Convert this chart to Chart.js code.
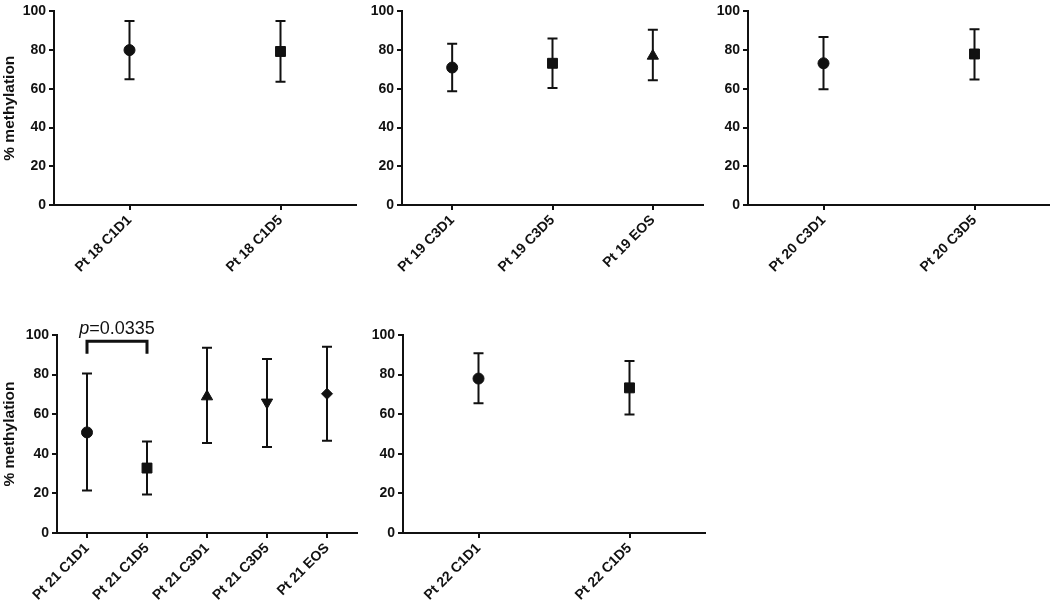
<!DOCTYPE html>
<html>
<head>
<meta charset="utf-8">
<script src="https://cdn.jsdelivr.net/npm/chart.js@4/dist/chart.umd.min.js"></script>
<style>
body{margin:0;background:#fff;width:1050px;height:605px;position:relative;overflow:hidden;}
canvas{position:absolute;}
</style>
</head>
<body>
<canvas id="c18" style="left:0;top:0"></canvas>
<canvas id="c19" style="left:350px;top:0"></canvas>
<canvas id="c20" style="left:700px;top:0"></canvas>
<canvas id="c21" style="left:0;top:300px"></canvas>
<canvas id="c22" style="left:350px;top:300px"></canvas>
<script>
// values (% methylation, mean with lower/upper error)
const yTicks=[0,20,40,60,80,100];

const labels18=['Pt 18 C1D1','Pt 18 C1D5'];
const mean18=[80,79.3];
const low18=[65,63.7];
const high18=[95,95];

const labels19=['Pt 19 C3D1','Pt 19 C3D5','Pt 19 EOS'];
const mean19=[71,73.2,77];
const low19=[58.8,60.4,64.5];
const high19=[83.3,86,90.5];

const labels20=['Pt 20 C3D1','Pt 20 C3D5'];
const mean20=[73.2,78];
const low20=[59.8,64.8];
const high20=[86.8,90.8];

const labels21=['Pt 21 C1D1','Pt 21 C1D5','Pt 21 C3D1','Pt 21 C3D5','Pt 21 EOS'];
const mean21=[50.8,32.8,68.9,66,70.3];
const low21=[21.5,19.5,45.4,43.4,46.6];
const high21=[80.5,46.2,93.6,87.9,94.1];

const labels22=['Pt 22 C1D1','Pt 22 C1D5'];
const mean22=[78,73.3];
const low22=[65.5,59.8];
const high22=[90.8,86.9];

const pText21='0.0335';
const pPair21=[0,1];
const pBracket21=[90.5,96.8];

// marker shapes by position in the group
const shapes=['circle','rect','triangle','triangle','rectRot'];
const rotations=[0,0,0,180,0];
const radii=[5.5,7,6.5,6.5,5.5];

const FONT='"Liberation Sans", Arial, sans-serif';
const INK='#111';

const errorBars={
    id:'errorBars',
    beforeDatasetsDraw(chart,args,opts){
        const x=chart.scales.x, y=chart.scales.y;
        const ctx=chart.ctx;
        ctx.save();
        ctx.strokeStyle=INK;
        ctx.lineWidth=2;
        opts.low.forEach((lo,i)=>{
            const px=x.getPixelForValue(i);
            const y1=y.getPixelForValue(lo);
            const y2=y.getPixelForValue(opts.high[i]);
            ctx.beginPath();
            ctx.moveTo(px,y1);ctx.lineTo(px,y2);
            ctx.moveTo(px-5,y1);ctx.lineTo(px+5,y1);
            ctx.moveTo(px-5,y2);ctx.lineTo(px+5,y2);
            ctx.stroke();
        });
        if(opts.pText){
            const xa=x.getPixelForValue(opts.pair[0]);
            const xb=x.getPixelForValue(opts.pair[1]);
            const yl=y.getPixelForValue(opts.bracket[0]);
            const yt=y.getPixelForValue(opts.bracket[1]);
            ctx.lineWidth=3;
            ctx.beginPath();
            ctx.moveTo(xa,yl);ctx.lineTo(xa,yt);ctx.lineTo(xb,yt);ctx.lineTo(xb,yl);
            ctx.stroke();
            ctx.fillStyle=INK;
            ctx.textBaseline='alphabetic';
            ctx.textAlign='left';
            const f1='italic 18px '+FONT, f2='18px '+FONT;
            ctx.font=f1; const w1=ctx.measureText('p').width;
            ctx.font=f2; const w2=ctx.measureText('='+opts.pText).width;
            const sx=(xa+xb)/2-(w1+w2)/2;
            const by=yt-7;
            ctx.font=f1; ctx.fillText('p',sx,by);
            ctx.font=f2; ctx.fillText('='+opts.pText,sx+w1,by);
        }
        ctx.restore();
    }
};

function panel(id,w,h,labels,mean,low,high,yWidth,pad,xHeight,showTitle,extra){
    const cv=document.getElementById(id);
    cv.width=w;cv.height=h;
    cv.style.width=w+'px';cv.style.height=h+'px';
    return new Chart(cv,{
        type:'line',
        data:{
            labels:labels,
            datasets:[{
                data:mean,
                showLine:false,
                pointStyle:labels.map((l,i)=>shapes[i]),
                pointRotation:labels.map((l,i)=>rotations[i]),
                pointRadius:labels.map((l,i)=>radii[i]),
                pointBackgroundColor:INK,
                pointBorderColor:INK,
                pointBorderWidth:1
            }]
        },
        options:{
            responsive:false,
            animation:false,
            events:[],
            layout:{autoPadding:false,padding:pad},
            plugins:{
                legend:{display:false},
                tooltip:{enabled:false},
                errorBars:Object.assign({low:low,high:high},extra||{})
            },
            scales:{
                x:{
                    offset:true,
                    border:{color:INK,width:2},
                    grid:{drawOnChartArea:false,color:INK,lineWidth:2,tickLength:5},
                    ticks:{
                        autoSkip:false,maxRotation:45,minRotation:45,
                        color:INK,padding:2,
                        font:{family:FONT,size:14,weight:'bold'}
                    },
                    afterFit:s=>{s.height=xHeight;}
                },
                y:{
                    min:0,max:100,
                    afterBuildTicks:s=>{s.ticks=yTicks.map(v=>({value:v}));},
                    border:{color:INK,width:2},
                    grid:{drawOnChartArea:false,color:INK,lineWidth:2,tickLength:5},
                    ticks:{color:INK,padding:3,font:{family:FONT,size:14,weight:'bold'}},
                    title:{
                        display:showTitle,text:'% methylation',color:INK,
                        padding:{top:0,bottom:0},
                        font:{family:FONT,size:15.5,weight:'bold'}
                    },
                    afterFit:s=>{s.width=yWidth;}
                }
            }
        },
        plugins:[errorBars]
    });
}

panel('c18',360,300,labels18,mean18,low18,high18,54,{top:6,right:4,left:0,bottom:0},95,true);
panel('c19',355,300,labels19,mean19,low19,high19,52,{top:6,right:2,left:0,bottom:0},95,false);
panel('c20',350,300,labels20,mean20,low20,high20,48,{top:6,right:0,left:0,bottom:0},95,false);
panel('c21',360,305,labels21,mean21,low21,high21,57,{top:35,right:3,left:0,bottom:0},72,true,
    {pText:pText21,pair:pPair21,bracket:pBracket21});
panel('c22',360,305,labels22,mean22,low22,high22,53,{top:35,right:5,left:0,bottom:0},72,false);
</script>
</body>
</html>
